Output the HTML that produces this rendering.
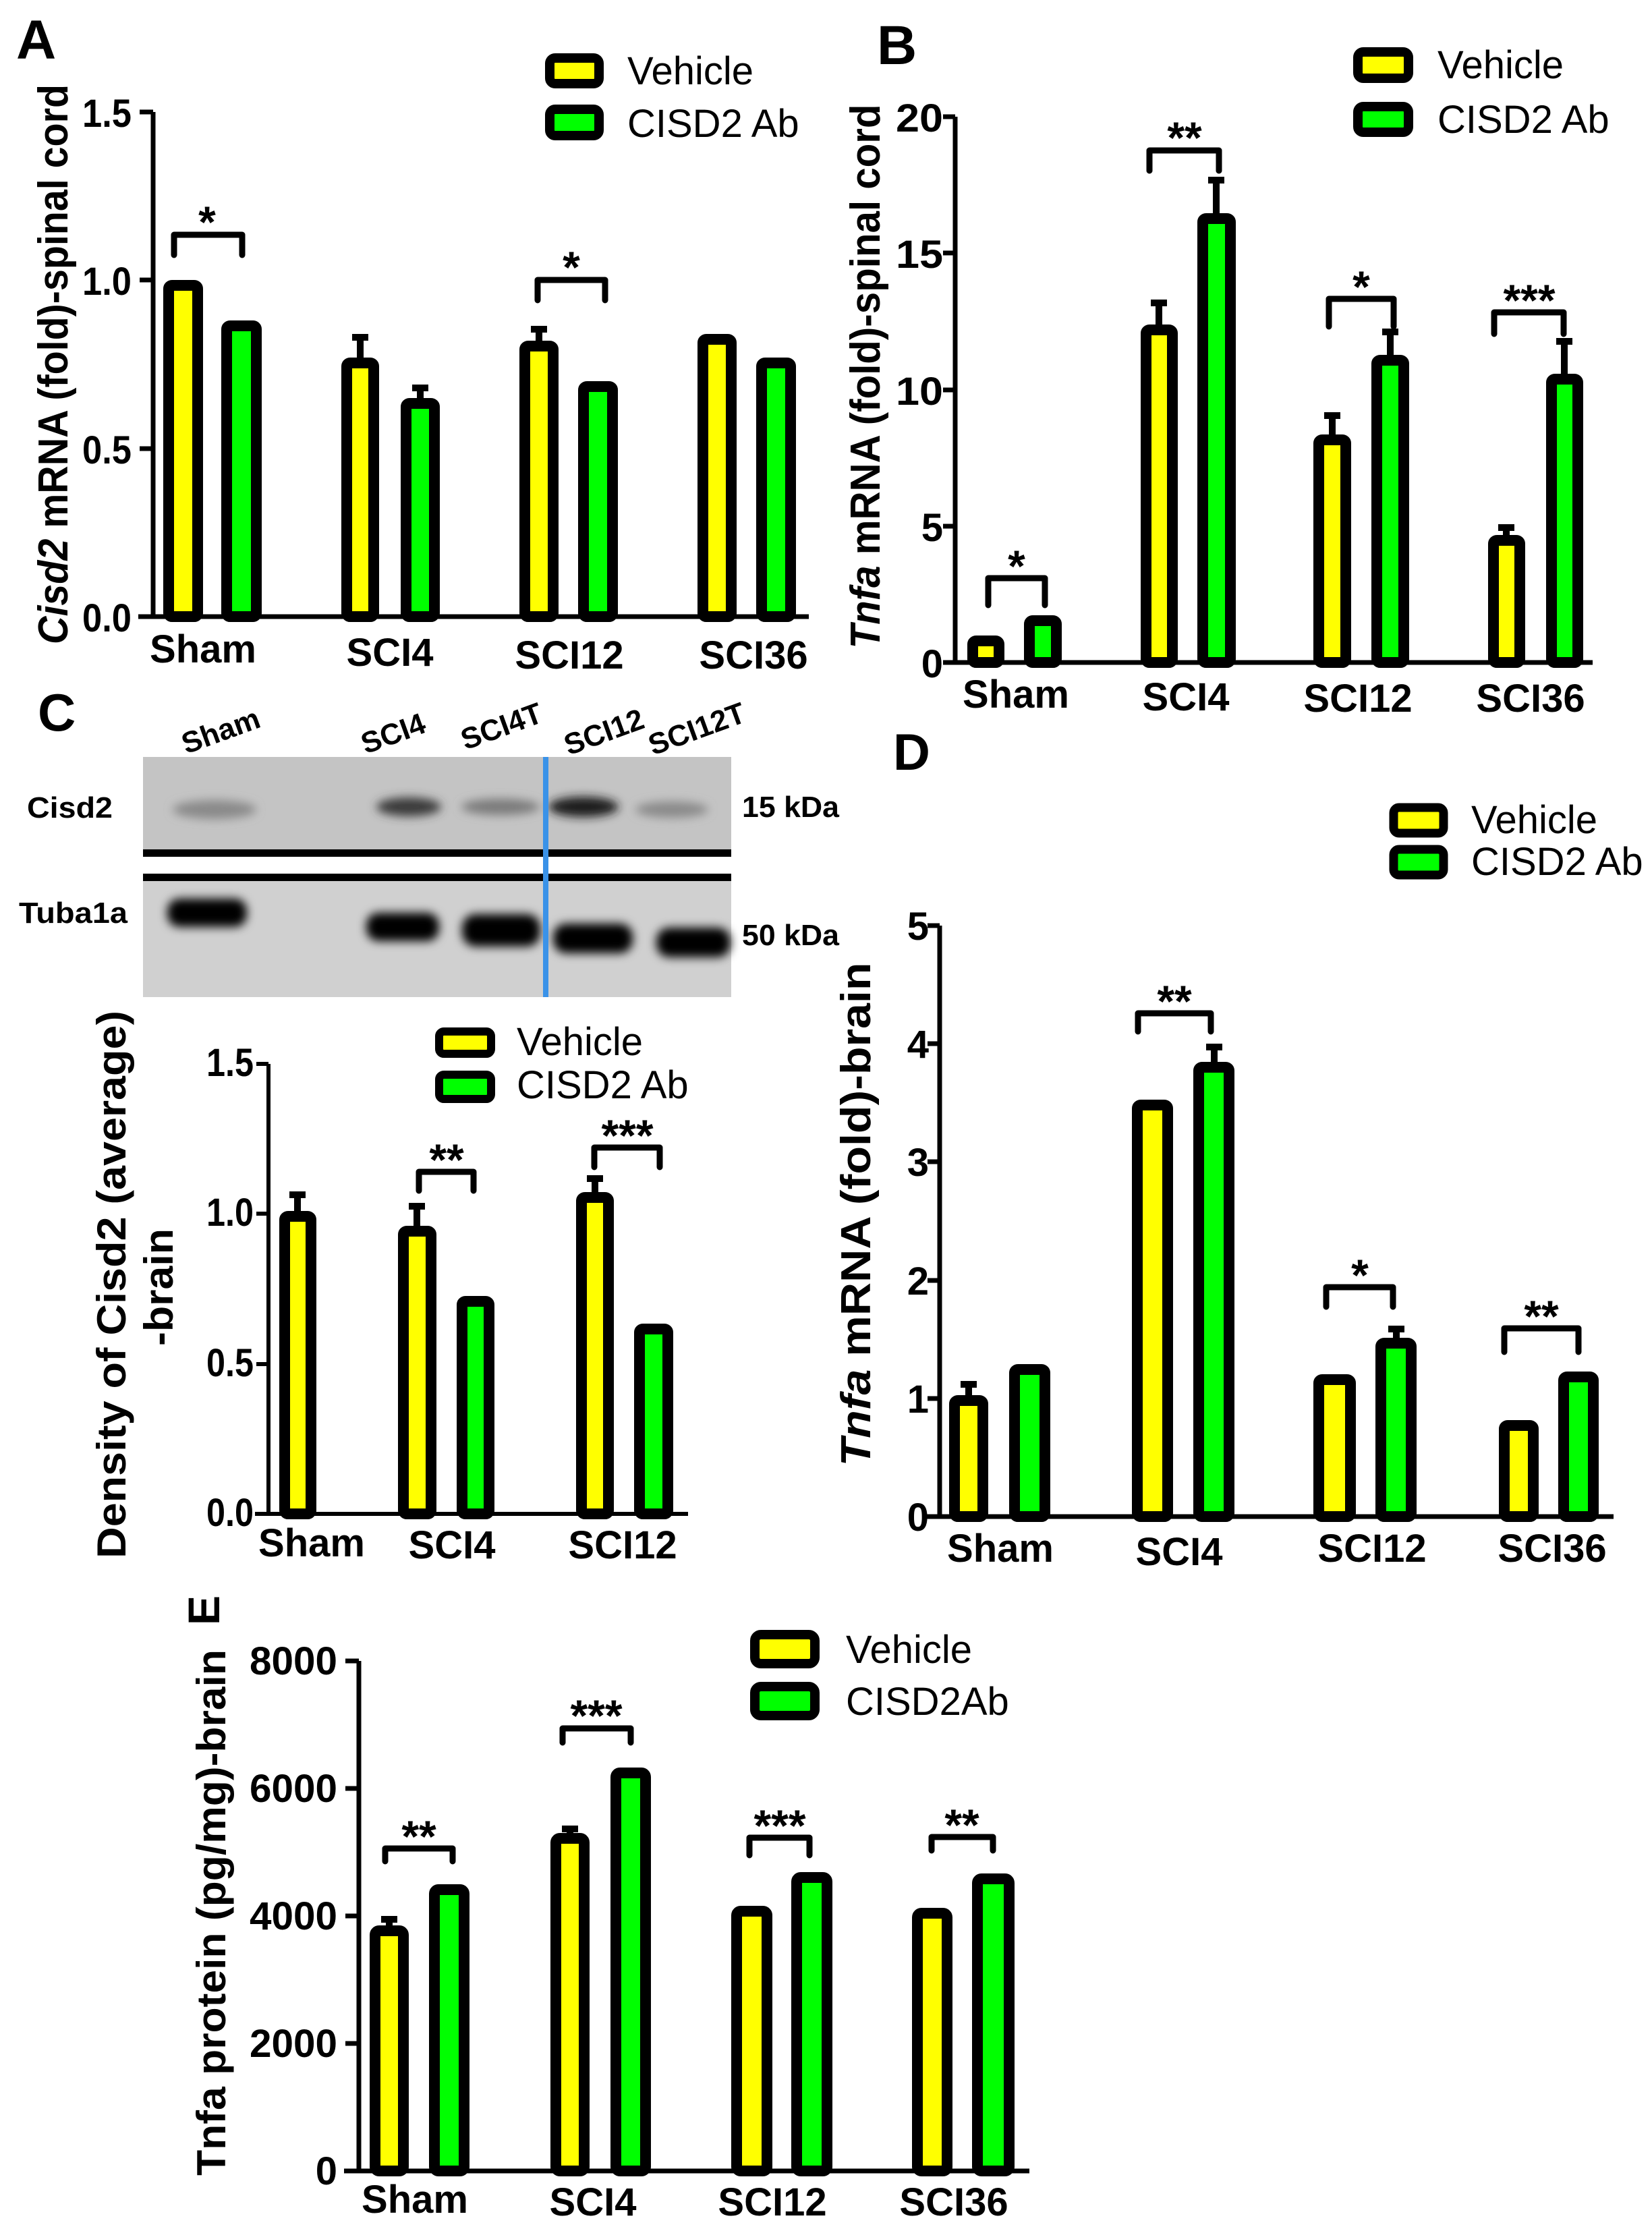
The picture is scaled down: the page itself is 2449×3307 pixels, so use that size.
<!DOCTYPE html>
<html><head><meta charset="utf-8"><style>
html,body{margin:0;padding:0;background:#fff}
svg{display:block}
text{font-family:"Liberation Sans",Arial,sans-serif;fill:#000}
.b{font-weight:bold}
.tk{font-weight:bold;font-size:58px;text-anchor:end}
.xl{font-weight:bold;font-size:58px;text-anchor:middle}
.lg{font-size:58px}
.st{font-weight:bold;font-size:66px;text-anchor:middle}
.bar{stroke:#000;stroke-width:16}
.y{fill:#ffff00}.g{fill:#00ff00}
.ax{stroke:#000;stroke-width:7;fill:none}
.er{stroke:#000;stroke-width:10;fill:none}
.br{stroke:#000;stroke-width:9;fill:none;stroke-linejoin:round;stroke-linecap:round}
</style></head><body>
<svg width="2449" height="3307" viewBox="0 0 2449 3307" xmlns="http://www.w3.org/2000/svg">
<defs>
<filter id="bl" x="-20%" y="-50%" width="140%" height="200%"><feGaussianBlur stdDeviation="7"/></filter>
</defs>

<!-- ===== Panel A ===== -->
<text x="24" y="87" class="b" font-size="82">A</text>
<text transform="translate(100,540) rotate(-90)" class="b" font-size="62" text-anchor="middle" textLength="830" lengthAdjust="spacingAndGlyphs"><tspan font-style="italic">Cisd2</tspan> mRNA (fold)-spinal cord</text>
<path class="ax" d="M227,166 V914 M205,914 H1199 M207,166 H227 M207,415 H227 M207,665 H227"/>
<text class="tk" x="195" y="188" textLength="73" lengthAdjust="spacingAndGlyphs">1.5</text>
<text class="tk" x="195" y="437" textLength="73" lengthAdjust="spacingAndGlyphs">1.0</text>
<text class="tk" x="195" y="687" textLength="73" lengthAdjust="spacingAndGlyphs">0.5</text>
<text class="tk" x="195" y="936" textLength="73" lengthAdjust="spacingAndGlyphs">0.0</text>
<path class="er" d="M534,530 V500 M522,500 H546 M623,590 V575 M611,575 H635 M799,505 V488 M787,488 H811"/>
<rect class="bar y" x="250" y="423" width="43" height="491" rx="5"/>
<rect class="bar g" x="336" y="483" width="44" height="431" rx="5"/>
<rect class="bar y" x="514" y="538" width="40" height="376" rx="5"/>
<rect class="bar g" x="602" y="598" width="42" height="316" rx="5"/>
<rect class="bar y" x="778" y="513" width="42" height="401" rx="5"/>
<rect class="bar g" x="865" y="573" width="43" height="341" rx="5"/>
<rect class="bar y" x="1042" y="503" width="42" height="411" rx="5"/>
<rect class="bar g" x="1129" y="538" width="43" height="376" rx="5"/>
<path class="br" d="M258,378 V348 H359 V378"/>
<text class="st" x="307" y="352">*</text>
<path class="br" d="M797,445 V415 H897 V445"/>
<text class="st" x="847" y="419">*</text>
<text class="xl" x="301" y="982">Sham</text>
<text class="xl" x="578" y="987">SCI4</text>
<text class="xl" x="844" y="991">SCI12</text>
<text class="xl" x="1117" y="991">SCI36</text>
<rect x="815" y="86" width="73" height="38" rx="8" fill="#ffff00" stroke="#000" stroke-width="14"/>
<rect x="815" y="162" width="73" height="39" rx="8" fill="#00ff00" stroke="#000" stroke-width="14"/>
<text class="lg" x="930" y="125" font-size="60">Vehicle</text>
<text class="lg" x="930" y="203" font-size="60">CISD2 Ab</text>

<!-- ===== Panel B ===== -->
<text x="1300" y="95" class="b" font-size="82">B</text>
<text transform="translate(1304,558) rotate(-90)" class="b" font-size="62" text-anchor="middle" textLength="807" lengthAdjust="spacingAndGlyphs"><tspan font-style="italic">Tnfa</tspan> mRNA (fold)-spinal cord</text>
<path class="ax" d="M1416,173 V982 M1398,982 H2361 M1398,173 H1416 M1398,375 H1416 M1398,578 H1416 M1398,780 H1416"/>
<text class="tk" x="1398" y="195" textLength="70" lengthAdjust="spacingAndGlyphs">20</text>
<text class="tk" x="1398" y="397" textLength="70" lengthAdjust="spacingAndGlyphs">15</text>
<text class="tk" x="1398" y="600" textLength="70" lengthAdjust="spacingAndGlyphs">10</text>
<text class="tk" x="1398" y="802">5</text>
<text class="tk" x="1398" y="1004">0</text>
<path class="er" d="M1718,481 V449 M1706,449 H1730 M1803,316 V267 M1791,267 H1815 M1975,644 V616 M1963,616 H1987 M2061,526 V492 M2049,492 H2073 M2233,793 V782 M2221,782 H2245 M2319,554 V506 M2307,506 H2331"/>
<rect class="bar y" x="1442" y="950" width="39" height="32" rx="5"/>
<rect class="bar g" x="1526" y="920" width="40" height="62" rx="5"/>
<rect class="bar y" x="1699" y="489" width="39" height="493" rx="5"/>
<rect class="bar g" x="1783" y="324" width="41" height="658" rx="5"/>
<rect class="bar y" x="1955" y="652" width="40" height="330" rx="5"/>
<rect class="bar g" x="2041" y="534" width="40" height="448" rx="5"/>
<rect class="bar y" x="2214" y="801" width="39" height="181" rx="5"/>
<rect class="bar g" x="2300" y="562" width="39" height="420" rx="5"/>
<path class="br" d="M1465,897 V857 H1549 V897"/>
<text class="st" x="1507" y="862">*</text>
<path class="br" d="M1704,253 V223 H1807 V253"/>
<text class="st" x="1756" y="227">**</text>
<path class="br" d="M1970,484 V443 H2066 V484"/>
<text class="st" x="2018" y="448">*</text>
<path class="br" d="M2215,495 V463 H2318 V495"/>
<text class="st" x="2267" y="468">***</text>
<text class="xl" x="1506" y="1049">Sham</text>
<text class="xl" x="1758" y="1053">SCI4</text>
<text class="xl" x="2013" y="1055">SCI12</text>
<text class="xl" x="2269" y="1055">SCI36</text>
<rect x="2013" y="77" width="75" height="39" rx="8" fill="#ffff00" stroke="#000" stroke-width="14"/>
<rect x="2013" y="158" width="75" height="38" rx="8" fill="#00ff00" stroke="#000" stroke-width="14"/>
<text class="lg" x="2131" y="116" font-size="60">Vehicle</text>
<text class="lg" x="2131" y="197" font-size="60">CISD2 Ab</text>

<!-- ===== Panel C (blot) ===== -->
<text x="56" y="1083" class="b" font-size="78">C</text>
<g class="b" font-size="44">
<text transform="translate(276,1118) rotate(-20)">Sham</text>
<text transform="translate(542,1118) rotate(-20)">SCI4</text>
<text transform="translate(690,1112) rotate(-20)">SCI4T</text>
<text transform="translate(843,1120) rotate(-20)">SCI12</text>
<text transform="translate(968,1120) rotate(-20)">SCI12T</text>
</g>
<rect x="212" y="1122" width="872" height="138" fill="#c4c4c4"/>
<rect x="212" y="1305" width="872" height="173" fill="#d0d0d0"/>
<rect x="212" y="1270" width="872" height="25" fill="#fff"/>
<rect x="212" y="1259" width="872" height="11" fill="#000"/>
<rect x="212" y="1295" width="872" height="11" fill="#000"/>
<g filter="url(#bl)">
<ellipse cx="318" cy="1200" rx="62" ry="14" fill="#8a8a8a"/>
<ellipse cx="606" cy="1196" rx="48" ry="14" fill="#3a3a3a"/>
<ellipse cx="742" cy="1196" rx="58" ry="12" fill="#7a7a7a"/>
<ellipse cx="865" cy="1196" rx="52" ry="15" fill="#1a1a1a"/>
<ellipse cx="996" cy="1200" rx="54" ry="12" fill="#8a8a8a"/>
<rect x="248" y="1332" width="118" height="42" rx="18" fill="#000"/>
<rect x="543" y="1353" width="108" height="42" rx="18" fill="#000"/>
<rect x="685" y="1355" width="116" height="48" rx="20" fill="#000"/>
<rect x="820" y="1369" width="118" height="44" rx="19" fill="#000"/>
<rect x="973" y="1375" width="110" height="44" rx="19" fill="#000"/>
</g>
<rect x="805" y="1122" width="8" height="356" fill="#3a92e8"/>
<text class="b" x="40" y="1212" font-size="44" textLength="127" lengthAdjust="spacingAndGlyphs">Cisd2</text>
<text class="b" x="28" y="1368" font-size="44" textLength="161" lengthAdjust="spacingAndGlyphs">Tuba1a</text>
<text class="b" x="1100" y="1211" font-size="44" textLength="144" lengthAdjust="spacingAndGlyphs">15 kDa</text>
<text class="b" x="1100" y="1401" font-size="44" textLength="144" lengthAdjust="spacingAndGlyphs">50 kDa</text>

<!-- ===== Panel C chart ===== -->
<text transform="translate(186,1904) rotate(-90)" class="b" font-size="60" text-anchor="middle" textLength="812" lengthAdjust="spacingAndGlyphs">Density of Cisd2 (average)</text>
<text transform="translate(256,1908) rotate(-90)" class="b" font-size="60" text-anchor="middle" textLength="174" lengthAdjust="spacingAndGlyphs">-brain</text>
<path class="ax" d="M398,1577 V2244 M378,2244 H1020 M380,1577 H398 M380,1799 H398 M380,2022 H398" style="stroke-width:6"/>
<text class="tk" x="376" y="1595" font-size="52" textLength="70" lengthAdjust="spacingAndGlyphs">1.5</text>
<text class="tk" x="376" y="1817" font-size="52" textLength="70" lengthAdjust="spacingAndGlyphs">1.0</text>
<text class="tk" x="376" y="2040" font-size="52" textLength="70" lengthAdjust="spacingAndGlyphs">0.5</text>
<text class="tk" x="376" y="2262" font-size="52" textLength="70" lengthAdjust="spacingAndGlyphs">0.0</text>
<path class="er" d="M441,1795 V1771 M429,1771 H453 M618,1817 V1788 M606,1788 H630 M882,1767 V1747 M870,1747 H894"/>
<rect class="bar y" x="422" y="1803" width="39" height="441" rx="5"/>
<rect class="bar y" x="598" y="1825" width="41" height="419" rx="5"/>
<rect class="bar g" x="685" y="1929" width="40" height="315" rx="5"/>
<rect class="bar y" x="862" y="1775" width="40" height="469" rx="5"/>
<rect class="bar g" x="948" y="1970" width="42" height="274" rx="5"/>
<path class="br" d="M621,1765 V1737 H702 V1765"/>
<text class="st" x="662" y="1742" font-size="58">**</text>
<path class="br" d="M881,1730 V1701 H978 V1730"/>
<text class="st" x="930" y="1706" font-size="58">***</text>
<text class="xl" x="462" y="2307" font-size="52">Sham</text>
<text class="xl" x="670" y="2310" font-size="52">SCI4</text>
<text class="xl" x="923" y="2310" font-size="52">SCI12</text>
<rect x="651" y="1529" width="77" height="33" rx="7" fill="#ffff00" stroke="#000" stroke-width="12"/>
<rect x="651" y="1593" width="77" height="36" rx="7" fill="#00ff00" stroke="#000" stroke-width="12"/>
<text class="lg" x="766" y="1564" font-size="52">Vehicle</text>
<text class="lg" x="766" y="1628" font-size="52">CISD2 Ab</text>

<!-- ===== Panel D ===== -->
<text x="1324" y="1141" class="b" font-size="76">D</text>
<text transform="translate(1290,1800) rotate(-90)" class="b" font-size="62" text-anchor="middle" textLength="747" lengthAdjust="spacingAndGlyphs"><tspan font-style="italic">Tnfa</tspan> mRNA (fold)-brain</text>
<path class="ax" d="M1393,1372 V2248 M1372,2248 H2392 M1375,1372 H1393 M1375,1547 H1393 M1375,1722 H1393 M1375,1898 H1393 M1375,2073 H1393"/>
<text class="tk" x="1377" y="1393" font-size="60">5</text>
<text class="tk" x="1377" y="1568" font-size="60">4</text>
<text class="tk" x="1377" y="1743" font-size="60">3</text>
<text class="tk" x="1377" y="1919" font-size="60">2</text>
<text class="tk" x="1377" y="2094" font-size="60">1</text>
<text class="tk" x="1377" y="2269" font-size="60">0</text>
<path class="er" d="M1436,2068 V2052 M1424,2052 H1448 M1800,1574 V1552 M1788,1552 H1812 M2070,1983 V1970 M2058,1970 H2082"/>
<rect class="bar y" x="1415" y="2076" width="42" height="172" rx="5"/>
<rect class="bar g" x="1504" y="2030" width="45" height="218" rx="5"/>
<rect class="bar y" x="1686" y="1638" width="45" height="610" rx="5"/>
<rect class="bar g" x="1777" y="1582" width="45" height="666" rx="5"/>
<rect class="bar y" x="1955" y="2045" width="47" height="203" rx="5"/>
<rect class="bar g" x="2047" y="1991" width="45" height="257" rx="5"/>
<rect class="bar y" x="2230" y="2113" width="43" height="135" rx="5"/>
<rect class="bar g" x="2318" y="2041" width="44" height="207" rx="5"/>
<path class="br" d="M1687,1529 V1502 H1795 V1529"/>
<text class="st" x="1741" y="1507" font-size="60">**</text>
<path class="br" d="M1966,1937 V1908 H2065 V1937"/>
<text class="st" x="2016" y="1913" font-size="60">*</text>
<path class="br" d="M2230,2004 V1969 H2340 V2004"/>
<text class="st" x="2285" y="1974" font-size="60">**</text>
<text class="xl" x="1483" y="2315" font-size="60">Sham</text>
<text class="xl" x="1748" y="2320" font-size="60">SCI4</text>
<text class="xl" x="2034" y="2315" font-size="60">SCI12</text>
<text class="xl" x="2301" y="2315" font-size="60">SCI36</text>
<rect x="2066" y="1197" width="74" height="38" rx="8" fill="#ffff00" stroke="#000" stroke-width="13"/>
<rect x="2066" y="1259" width="74" height="38" rx="8" fill="#00ff00" stroke="#000" stroke-width="13"/>
<text class="lg" x="2181" y="1235" font-size="54">Vehicle</text>
<text class="lg" x="2181" y="1297" font-size="54">CISD2 Ab</text>

<!-- ===== Panel E ===== -->
<text transform="translate(325,2409) rotate(-90)" class="b" font-size="66">E</text>
<text transform="translate(334,2835) rotate(-90)" class="b" font-size="60" text-anchor="middle" textLength="780" lengthAdjust="spacingAndGlyphs">Tnfa protein (pg/mg)-brain</text>
<path class="ax" d="M532,2462 V3218 M510,3218 H1526 M512,2462 H532 M512,2651 H532 M512,2840 H532 M512,3029 H532"/>
<text class="tk" x="500" y="2482" font-size="56" textLength="130" lengthAdjust="spacingAndGlyphs">8000</text>
<text class="tk" x="500" y="2671" font-size="56" textLength="130" lengthAdjust="spacingAndGlyphs">6000</text>
<text class="tk" x="500" y="2860" font-size="56" textLength="130" lengthAdjust="spacingAndGlyphs">4000</text>
<text class="tk" x="500" y="3049" font-size="56" textLength="130" lengthAdjust="spacingAndGlyphs">2000</text>
<text class="tk" x="500" y="3238" font-size="56">0</text>
<path class="er" d="M577,2854 V2845 M565,2845 H589 M845,2717 V2711 M833,2711 H857"/>
<rect class="bar y" x="556" y="2862" width="42" height="356" rx="6"/>
<rect class="bar g" x="644" y="2801" width="44" height="417" rx="6"/>
<rect class="bar y" x="824" y="2725" width="42" height="493" rx="6"/>
<rect class="bar g" x="913" y="2628" width="44" height="590" rx="6"/>
<rect class="bar y" x="1092" y="2833" width="45" height="385" rx="6"/>
<rect class="bar g" x="1181" y="2783" width="45" height="435" rx="6"/>
<rect class="bar y" x="1360" y="2836" width="44" height="382" rx="6"/>
<rect class="bar g" x="1449" y="2785" width="47" height="433" rx="6"/>
<path class="br" d="M571,2759 V2740 H671 V2759"/>
<text class="st" x="621" y="2745" font-size="62">**</text>
<path class="br" d="M834,2583 V2562 H935 V2583"/>
<text class="st" x="884" y="2566" font-size="62">***</text>
<path class="br" d="M1111,2750 V2724 H1200 V2750"/>
<text class="st" x="1156" y="2729" font-size="62">***</text>
<path class="br" d="M1381,2743 V2723 H1472 V2743"/>
<text class="st" x="1426" y="2728" font-size="62">**</text>
<text class="xl" x="615" y="3280">Sham</text>
<text class="xl" x="879" y="3284">SCI4</text>
<text class="xl" x="1145" y="3284">SCI12</text>
<text class="xl" x="1414" y="3284">SCI36</text>
<rect x="1119" y="2423" width="89" height="43" rx="9" fill="#ffff00" stroke="#000" stroke-width="14"/>
<rect x="1119" y="2500" width="89" height="43" rx="9" fill="#00ff00" stroke="#000" stroke-width="14"/>
<text class="lg" x="1254" y="2465" font-size="60">Vehicle</text>
<text class="lg" x="1254" y="2542" font-size="60">CISD2Ab</text>
</svg>
</body></html>
